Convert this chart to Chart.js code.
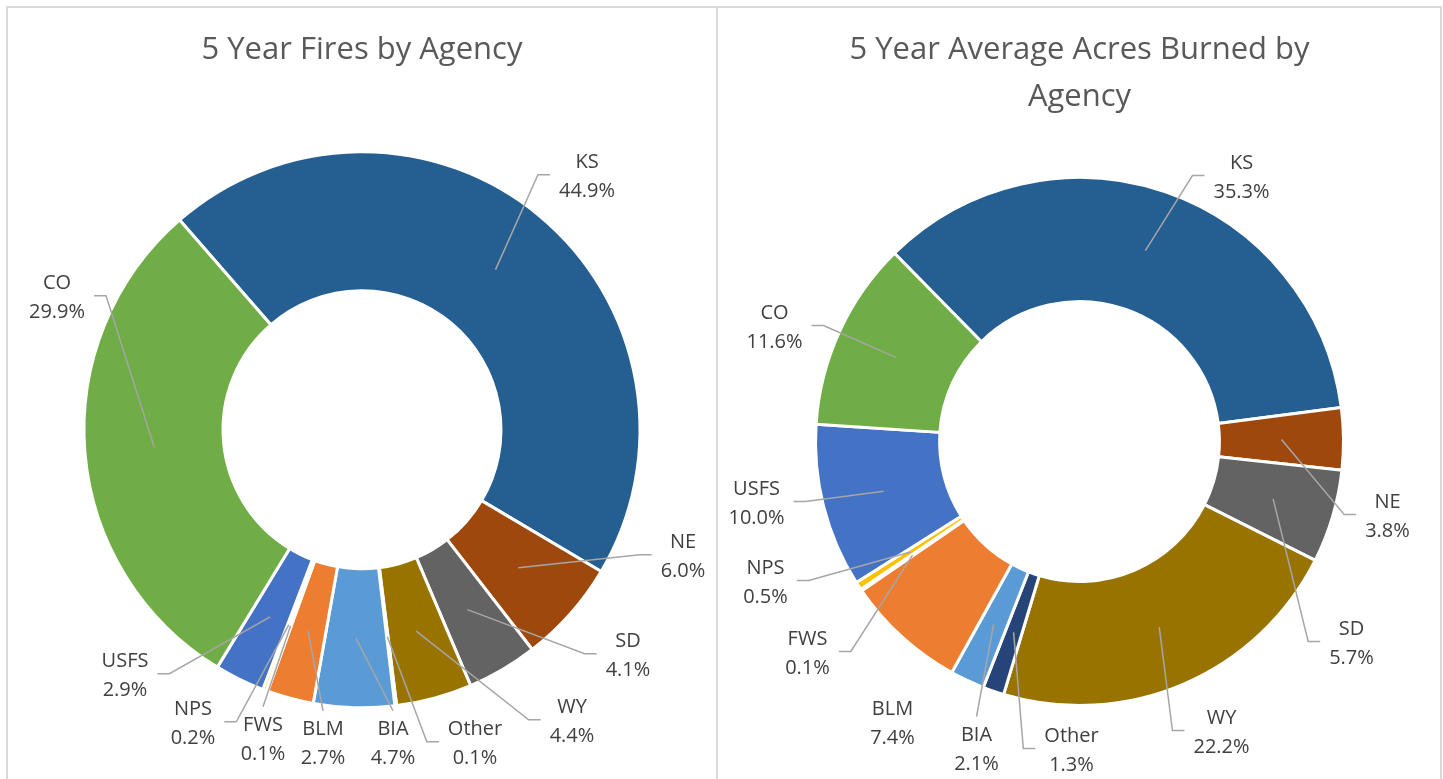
<!DOCTYPE html>
<html>
<head>
<meta charset="utf-8">
<title>Fires by Agency</title>
<script src="https://cdn.jsdelivr.net/npm/chart.js@4.4.1/dist/chart.umd.min.js"></script>
<style>
  html, body { margin: 0; padding: 0; background: #fff; }
  body { width: 1443px; height: 779px; position: relative; overflow: hidden; }
  .frame { position: absolute; left: 6px; top: 6px; width: 1436px; height: 800px;
           border: 2px solid #d9d9d9; border-bottom: none; box-sizing: border-box; }
  .divider { position: absolute; left: 716px; top: 6px; width: 2px; height: 780px; background: #d9d9d9; }
  .panel { position: absolute; top: 8px; height: 771px; }
  #leftPanel { left: 8px; width: 708px; }
  #rightPanel { left: 719px; width: 721px; }
</style>
</head>
<body>
<div class="frame"></div>
<div class="divider"></div>
<div class="panel" id="leftPanel"><canvas id="firesChart"></canvas></div>
<div class="panel" id="rightPanel"><canvas id="acresChart"></canvas></div>

<script>
// ----------------------
// DATA (clockwise from KS)
// ----------------------
const agencies = ["KS", "NE", "SD", "WY", "Other", "BIA", "BLM", "FWS", "NPS", "USFS", "CO"];
const firesPct = [44.9, 6.0, 4.1, 4.4, 0.1, 4.7, 2.7, 0.1, 0.2, 2.9, 29.9];
const acresPct = [35.3, 3.8, 5.7, 22.2, 1.3, 2.1, 7.4, 0.1, 0.5, 10.0, 11.6];

const agencyColors = ["#255E91", "#9E480E", "#636363", "#997300", "#264478", "#5B9BD5",
                      "#ED7D31", "#A5A5A5", "#FFC000", "#4472C4", "#70AD47"];

// ----------------------
// LABEL LAYOUT (offset of label block from donut centre, leader side)
// ----------------------
const firesSpots = [
  [225, -253, "L"], [321, 127, "L"], [266, 226, "L"], [210, 292, "L"], [113, 314, "L"],
  [31, 314, "T"], [-39, 314, "T"], [-99, 310, "T"], [-169, 294, "R"], [-237, 246, "R"],
  [-305, -132, "R"],
];
const acresSpots = [
  [162, -264, "L"], [308, 75, "L"], [272, 202, "L"], [142, 291, "L"], [-8, 309, "L"],
  [-103, 308, "T"], [-187, 282, "N"], [-272, 212, "R"], [-314, 141, "R"], [-323, 62, "R"],
  [-305, -114, "R"],
];

const labelFont = '20px "Open Sans", "Noto Sans", sans-serif';

// ----------------------
// LEADER LINE LABELS
// ----------------------
const leaderLabels = {
  id: "leaderLabels",
  afterDatasetsDraw(chart, args, opts) {
    const ctx = chart.ctx;
    const meta = chart.getDatasetMeta(0);
    const values = chart.data.datasets[0].data;
    const cx = meta.data[0].x;
    const cy = meta.data[0].y;

    ctx.save();
    ctx.font = labelFont;
    ctx.textAlign = "center";
    ctx.textBaseline = "middle";

    meta.data.forEach((arc, i) => {
      const spot = opts.spots[i];
      const lx = cx + spot[0];
      const ly = cy + spot[1];
      const name = chart.data.labels[i];
      const pct = values[i].toFixed(1) + "%";
      const w = Math.max(ctx.measureText(name).width, ctx.measureText(pct).width);
      const p = arc.getCenterPoint();

      ctx.strokeStyle = "#A6A6A6";
      ctx.lineWidth = 1.5;
      ctx.beginPath();
      if (spot[2] === "L" || spot[2] === "R") {
        const dir = spot[2] === "L" ? -1 : 1;
        const x1 = lx + dir * (w / 2 + 9);
        const x2 = x1 + dir * 12;
        ctx.moveTo(p.x, p.y);
        ctx.lineTo(x2, ly - 2);
        ctx.lineTo(x1, ly - 2);
        ctx.stroke();
      } else if (spot[2] === "T") {
        ctx.moveTo(p.x, p.y);
        ctx.lineTo(lx, ly - 33);
        ctx.stroke();
      }

      ctx.fillStyle = "#404040";
      ctx.fillText(name, lx, ly - 14.5);
      ctx.fillText(pct, lx, ly + 14.5);
    });
    ctx.restore();
  },
};

// ----------------------
// CHART BUILDER
// ----------------------
function makeDonut(canvasId, titleText, values, rotation, radius, cutout, padBottom, spots) {
  return new Chart(document.getElementById(canvasId), {
    type: "doughnut",
    data: {
      labels: agencies,
      datasets: [
        {
          data: values,
          backgroundColor: agencyColors,
          borderColor: "#ffffff",
          borderWidth: 3,
        },
      ],
    },
    options: {
      responsive: true,
      maintainAspectRatio: false,
      animation: false,
      rotation: rotation,
      radius: radius,
      cutout: cutout,
      layout: { padding: { top: 0, bottom: padBottom } },
      plugins: {
        legend: { display: false },
        tooltip: { enabled: false },
        title: {
          display: true,
          text: titleText,
          color: "#595959",
          font: { family: '"Open Sans", "Noto Sans", sans-serif', size: 31, weight: "normal", lineHeight: 1.5 },
          padding: { top: 19, bottom: 10 },
        },
        leaderLabels: { spots: spots },
      },
    },
    plugins: [leaderLabels],
  });
}

makeDonut("firesChart", "5 Year Fires by Agency", firesPct, -41, 278, "50%", 3, firesSpots);
makeDonut("acresChart", ["5 Year Average Acres Burned by", "Agency"], acresPct, -44.5, 264, "53%", 26, acresSpots);
</script>
</body>
</html>
